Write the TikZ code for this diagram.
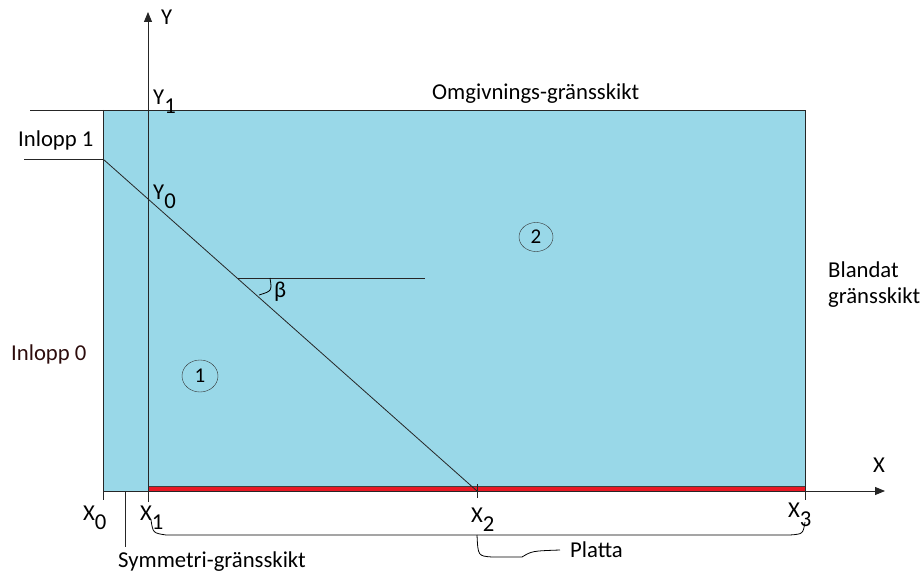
\documentclass[tikz,border=0pt]{standalone}
\usepackage{fontspec}
\setmainfont{Carlito}
\usetikzlibrary{arrows.meta,shapes.geometric}
\definecolor{flow}{RGB}{153,216,232}
\definecolor{plate}{RGB}{232,24,36}
\definecolor{inkred}{RGB}{45,12,12}
\newcommand{\lowidx}[2]{#1\raisebox{-9pt}{#2}}
\tikzset{
  lbl/.style={font=\fontsize{22.7}{26}\selectfont, inner sep=0pt, anchor=base west},
  zone/.style={draw=black!80, ellipse, inner sep=0pt, font=\fontsize{21}{24}\selectfont},
  axis/.style={line width=0.9pt, draw=black!85, -{Triangle[length=10pt,width=8pt]}},
  edge/.style={line width=0.9pt, draw=black!85}
}

\begin{document}
\begin{tikzpicture}[x=1pt,y=-1pt]
      \useasboundingbox (0,0) rectangle (924,572);
      % points
      \coordinate (tl) at (103,110);  \coordinate (tr) at (805,110);
      \coordinate (x0) at (103,491);  \coordinate (x1) at (148,491);
      \coordinate (x2) at (477,491);  \coordinate (x3) at (805,491);
      \coordinate (in) at (103,159);  \coordinate (bt) at (238,278);
      \fill[flow] (tl) rectangle (x3);
      \fill[plate, draw=black!75, line width=0.8pt] (148,486.5) rectangle (805,491.5);
      \draw[edge] (30,110) -- (tr) -- (805,500);
      \draw[edge] (tl) -- (103,500);
      \draw[edge] (24,159) -- (in);
      \draw[edge, line width=0.8pt] (in) -- (x2);
      \draw[edge] (bt) -- (425,278);
      \draw[line width=0.8pt] (270,278) .. controls (272,291) .. (259,295);
      \draw[edge] (477,484) -- (477,498);
      \draw[edge] (125,491) -- (125,547);
      \draw[axis] (x0) -- (885,491);
      \draw[axis] (148,502) -- (148,12);
      % brace
      \draw[line width=0.8pt] (151,520) .. controls (153,533) .. (166,535) -- (790,535)
        .. controls (803,534) .. (805,522);
      \draw[line width=0.8pt] (477,535) .. controls (478,556) .. (492,557) -- (522,557)
        .. controls (532,551) .. (560,550);
      % labels
      \node[lbl] (ylab) at (161,25) {Y};
      \node[lbl] (xlab) at (873,472) {X};
      \node[lbl] (y1) at (153,105) {\lowidx{Y}{1}};
      \node[lbl] (y0) at (153,200) {\lowidx{Y}{0}};
      \node[lbl] (lx0) at (83,520) {\lowidx{X}{0}};
      \node[lbl] (lx1) at (140,520) {\lowidx{X}{1}};
      \node[lbl] (lx2) at (471,522) {\lowidx{X}{2}};
      \node[lbl] (lx3) at (788,517) {\lowidx{X}{3}};
      \node[lbl] (beta) at (274,298) {β};
      \node[lbl] (inl1) at (18,147) {Inlopp 1};
      \node[lbl, text=inkred] (inl0) at (11,360) {Inlopp 0};
      \node[lbl] (omg) at (432,100) {Omgivnings-gränsskikt};
      \node[lbl] (bland) at (828,277) {Blandat};
      \node[lbl] (blgr) at (828,303) {gränsskikt};
      \node[lbl] (plat) at (570,557) {Platta};
      \node[lbl] (sym) at (118,567) {Symmetri-gränsskikt};
      \node[zone, minimum width=36pt, minimum height=32pt] (z1) at (200,376) {1};
      \node[zone, minimum width=34pt, minimum height=29pt] (z2) at (536,237) {2};
\end{tikzpicture}
\end{document}
